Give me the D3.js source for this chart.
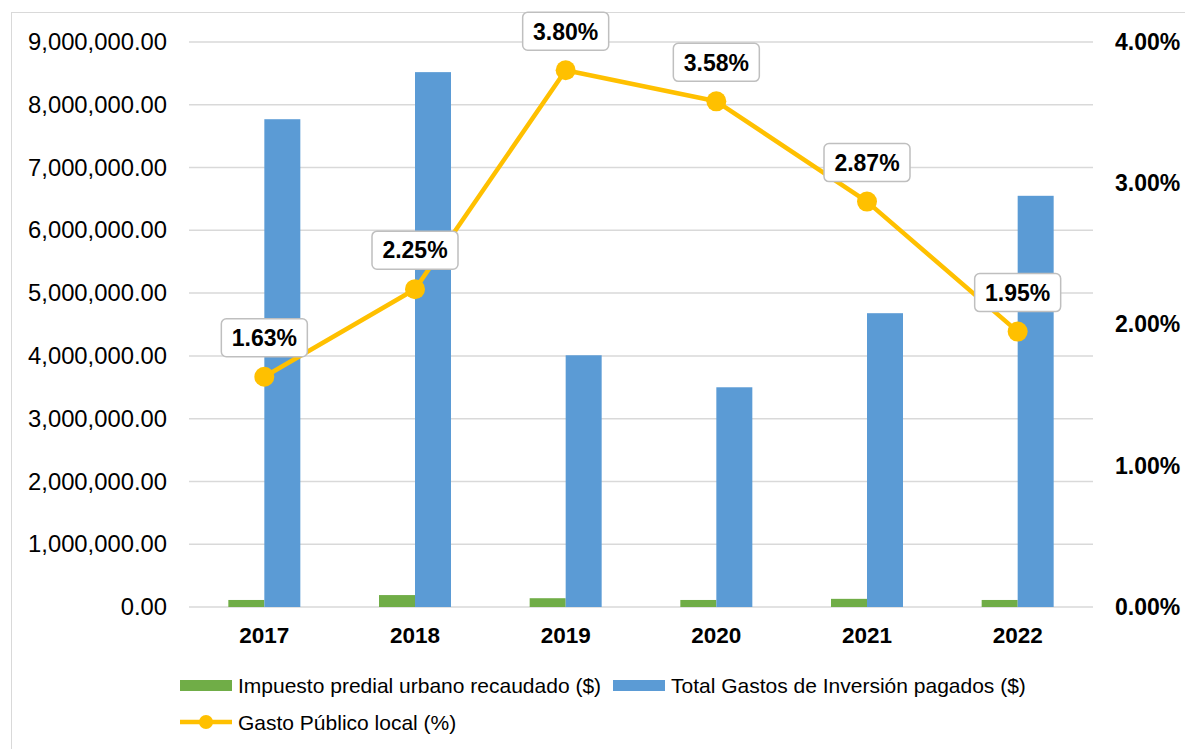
<!DOCTYPE html>
<html><head><meta charset="utf-8">
<script src="https://cdn.jsdelivr.net/npm/d3@7"></script>
<style>body{margin:0;background:#fff;}svg{display:block;font-family:"Liberation Sans",Arial,sans-serif;}</style>
</head><body><svg id="c" width="1185" height="749"></svg>
<script>
const categories = ["2017","2018","2019","2020","2021","2022"];
const impuestoPredial = [112000, 190000, 140000, 112000, 130000, 112000];
const gastosInversion = [7770000, 8520000, 4010000, 3500000, 4680000, 6550000];
const gastoPublicoPct = [1.63, 2.25, 3.80, 3.58, 2.87, 1.95];
const leftTicks = [0,1000000,2000000,3000000,4000000,5000000,6000000,7000000,8000000,9000000];
const rightTicks = [0,1,2,3,4];
const seriesNames = ["Impuesto predial urbano recaudado ($)","Total Gastos de Inversión pagados ($)","Gasto Público local (%)"];
const colors = {green:"#70AD47", blue:"#5B9BD5", gold:"#FFC000", grid:"#D9D9D9"};

const svg = d3.select("#c");
svg.append("rect").attr("x",11.5).attr("y",12.5).attr("width",1185).attr("height",760)
  .attr("fill","#fff").attr("stroke","#D9D9D9");

const m = {l:189, r:1093, t:42, b:607};
const x = d3.scaleBand().domain(categories).range([m.l,m.r]);
const yL = d3.scaleLinear().domain([0,9000000]).range([m.b,m.t]);
const yR = d3.scaleLinear().domain([0,4]).range([m.b,m.t]);

// gridlines
svg.append("g").selectAll("line").data(leftTicks).join("line")
  .attr("x1",m.l).attr("x2",m.r).attr("y1",d=>yL(d)).attr("y2",d=>yL(d))
  .attr("stroke",colors.grid).attr("stroke-width",1.5);

// left axis labels
const fmt = d3.format(",.2f");
const axL = svg.append("g").attr("transform",`translate(${m.l},0)`)
  .call(d3.axisLeft(yL).tickValues(leftTicks).tickFormat(fmt).tickSize(0).tickPadding(22));
axL.select(".domain").remove();
axL.selectAll("text").attr("font-size",23.8).attr("fill","#000").attr("font-family","Liberation Sans, Arial");

// right axis
const axR = svg.append("g").attr("transform",`translate(${m.r},0)`)
  .call(d3.axisRight(yR).tickValues(rightTicks).tickFormat(d=>d.toFixed(2)+"%").tickSize(0).tickPadding(22));
axR.select(".domain").remove();
axR.selectAll("text").attr("font-size",23).attr("font-weight","bold").attr("fill","#000").attr("font-family","Liberation Sans, Arial");

// x axis
const axX = svg.append("g").attr("transform",`translate(0,${m.b})`)
  .call(d3.axisBottom(x).tickSize(0).tickPadding(20));
axX.select(".domain").remove();
axX.selectAll("text").attr("font-size",22.5).attr("font-weight","bold").attr("fill","#000").attr("font-family","Liberation Sans, Arial");

const bw = 36;
svg.append("g").selectAll("rect").data(categories).join("rect")
  .attr("x",d=>x(d)+x.bandwidth()/2-bw).attr("width",bw)
  .attr("y",(d,i)=>yL(impuestoPredial[i])).attr("height",(d,i)=>m.b-yL(impuestoPredial[i]))
  .attr("fill",colors.green);
svg.append("g").selectAll("rect").data(categories).join("rect")
  .attr("x",d=>x(d)+x.bandwidth()/2).attr("width",bw)
  .attr("y",(d,i)=>yL(gastosInversion[i])).attr("height",(d,i)=>m.b-yL(gastosInversion[i]))
  .attr("fill",colors.blue);

// line
const cx = d=>x(d)+x.bandwidth()/2;
const line = d3.line().x((d,i)=>cx(categories[i])).y(d=>yR(d));
svg.append("path").datum(gastoPublicoPct).attr("d",line).attr("fill","none")
  .attr("stroke",colors.gold).attr("stroke-width",4.5).attr("stroke-linejoin","round");
svg.append("g").selectAll("circle").data(gastoPublicoPct).join("circle")
  .attr("cx",(d,i)=>cx(categories[i])).attr("cy",d=>yR(d)).attr("r",10).attr("fill",colors.gold);

// labels
const lg = svg.append("g").selectAll("g").data(gastoPublicoPct).join("g")
  .attr("transform",(d,i)=>`translate(${cx(categories[i])},${yR(d)-39})`);
lg.append("rect").attr("x",-43).attr("y",-19).attr("width",86).attr("height",38).attr("rx",5)
  .attr("fill","#fff").attr("stroke","#BFBFBF").attr("stroke-width",1.5);
lg.append("text").attr("text-anchor","middle").attr("dy","0.36em").attr("font-size",23)
  .attr("font-weight","bold").text(d=>d.toFixed(2)+"%");

// legend
const leg = svg.append("g").attr("font-size",21);
leg.append("rect").attr("x",180).attr("y",680).attr("width",52).attr("height",11).attr("fill",colors.green);
leg.append("text").attr("x",238).attr("y",685).attr("dy","0.36em").text(seriesNames[0]);
leg.append("rect").attr("x",613).attr("y",680).attr("width",52).attr("height",11).attr("fill",colors.blue);
leg.append("text").attr("x",671).attr("y",685).attr("dy","0.36em").text(seriesNames[1]);
leg.append("line").attr("x1",180).attr("x2",232).attr("y1",722).attr("y2",722).attr("stroke",colors.gold).attr("stroke-width",4.5);
leg.append("circle").attr("cx",206).attr("cy",722).attr("r",7).attr("fill",colors.gold);
leg.append("text").attr("x",238).attr("y",722).attr("dy","0.36em").text(seriesNames[2]);
</script></body></html>
